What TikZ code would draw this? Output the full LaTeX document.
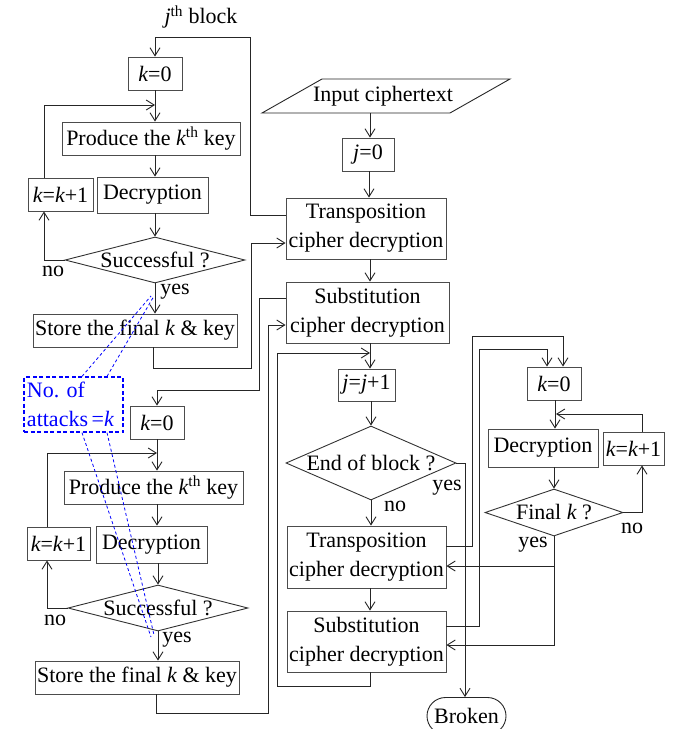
\documentclass[tikz,border=0pt]{standalone}
\usepackage{fontspec}
\setmainfont{Liberation Serif}
\usetikzlibrary{arrows.meta,shapes.geometric,shapes.misc}
\begin{document}
\begin{tikzpicture}[x=1pt,y=-1pt,
  every node/.style={font=\fontsize{22}{29}\selectfont, inner sep=0pt},
  box/.style={draw=black!70, line width=0.9pt, rectangle, align=center},
  dia/.style={draw=black!80, line width=0.9pt, diamond},
  arr/.style={-{Straight Barb[length=8pt,width=10pt]}, line width=0.9pt, draw=black!85},
  ln/.style={line width=0.9pt, draw=black!85},
  bluel/.style={draw=blue, line width=0.8pt, dash pattern=on 3pt off 2.5pt}]
\useasboundingbox (0,0) rectangle (678,729);

% ---------- left, first block ----------
\node (jb) at (201,17) {{\itshape j}\textsuperscript{th} block};
\node[box, minimum width=54pt, minimum height=33pt] (k0a) at (155,73.5) {{\itshape k}=0};
\node[box, minimum width=178pt, minimum height=33pt] (proda) at (151,138.5) {Produce the {\itshape k}\textsuperscript{th} key};
\node[box, minimum width=111pt, minimum height=36pt] (deca) at (152.5,195) {Decryption};
\node[box, minimum width=65pt, minimum height=33pt] (kk1a) at (60.5,194.5) {{\itshape k}={\itshape k}+1};
\node[dia, minimum width=180pt, minimum height=46pt] (succa) at (155,260) {\makebox[0pt]{Successful ?}};
\node[box, minimum width=204pt, minimum height=33pt] (storea) at (135,330.5) {Store the final {\itshape k} \& key};
\node (noa) at (53,271) {no};
\node (yesa) at (175,292) {yes};

% ---------- blue note ----------
\node[draw=blue, line width=1.2pt, dash pattern=on 4pt off 2.5pt, text=blue, align=left,
      text width=93pt, inner xsep=3pt, minimum height=55pt] (att) at (73.5,404.5) {No.\ of\\attacks\,={\itshape k}};

% ---------- left, second block ----------
\node[box, minimum width=54pt, minimum height=33pt] (k0b) at (157,422.5) {{\itshape k}=0};
\node[box, minimum width=179pt, minimum height=33pt] (prodb) at (153.5,487.5) {Produce the {\itshape k}\textsuperscript{th} key};
\node[box, minimum width=111pt, minimum height=37pt] (decb) at (151.5,544.5) {Decryption};
\node[box, minimum width=63pt, minimum height=33pt] (kk1b) at (58.5,543.5) {{\itshape k}={\itshape k}+1};
\node[dia, minimum width=180pt, minimum height=46pt] (succb) at (158,608) {\makebox[0pt]{Successful ?}};
\node[box, minimum width=204pt, minimum height=33pt] (storeb) at (137,677.5) {Store the final {\itshape k} \& key};
\node (nob) at (55,620) {no};
\node (yesb) at (177,640) {yes};

% ---------- middle column ----------
\draw[ln] (262,113) -- (322,79) -- (510,79) -- (450,113) -- cycle;
\node[minimum height=34pt] (input) at (383,96) {Input ciphertext};
\node[box, minimum width=52pt, minimum height=33pt] (j0) at (368,154.5) {{\itshape j}=0};
\node[box, minimum width=160pt, minimum height=61pt] (trans1) at (366,228.5) {Transposition\\cipher decryption};
\node[box, minimum width=163pt, minimum height=61pt] (sub1) at (367.5,312.5) {Substitution\\cipher decryption};
\node[box, minimum width=57pt, minimum height=32pt] (jj1) at (366.5,385) {{\itshape j}={\itshape j}+1};
\node[dia, minimum width=170pt, minimum height=74pt] (endb) at (371,463) {\makebox[0pt]{End of block ?}};
\node (yese) at (447,488) {yes};
\node (noe) at (395,506) {no};
\node[box, minimum width=159pt, minimum height=62pt] (trans2) at (366.5,557) {Transposition\\cipher decryption};
\node[box, minimum width=159pt, minimum height=61pt] (sub2) at (366.5,641.5) {Substitution\\cipher decryption};
\node[draw=black!85, line width=0.9pt, rounded rectangle, minimum width=79pt, minimum height=37pt] (brk) at (466.5,716) {Broken};

% ---------- right column ----------
\node[box, minimum width=54pt, minimum height=33pt] (k0c) at (554,383.5) {{\itshape k}=0};
\node[box, minimum width=110pt, minimum height=38pt] (decc) at (543,448) {Decryption};
\node[box, minimum width=61pt, minimum height=33pt] (kk1c) at (633.5,448.5) {{\itshape k}={\itshape k}+1};
\node[dia, minimum width=138pt, minimum height=47pt] (finalk) at (554,512.5) {\makebox[0pt]{Final {\itshape k} ?}};
\node (nof) at (632,528) {no};
\node (yesf) at (533,545) {yes};

% ---------- connectors: left first block ----------
\draw[arr] (trans1.west |- 0,215) -| (250,37) -| (k0a.north);
\draw[arr] (k0a.south) -- (k0a.south |- proda.north);
\draw[arr] (kk1a.north -| 44,0) |- (155,105);
\draw[arr] (proda.south -| 155,0) -- (deca.north -| 155,0);
\draw[arr] (deca.south -| 155,0) -- (succa.north);
\draw[arr] (succa.west) -| (kk1a.south -| 44,0);
\draw[arr] (succa.south) -- (storea.north -| succa.south);
\draw[arr] (storea.south -| 153,0) |- (251,368) |- (trans1.west |- 0,243);

% ---------- connectors: left second block ----------
\draw[arr] (sub1.west |- 0,298) -| (259,390) -| (k0b.north);
\draw[arr] (k0b.south) -- (k0b.south |- prodb.north);
\draw[arr] (kk1b.north -| 47,0) |- (157,453);
\draw[arr] (prodb.south -| 157,0) -- (decb.north -| 157,0);
\draw[arr] (decb.south -| 158,0) -- (succb.north);
\draw[arr] (succb.west) -| (kk1b.south -| 47,0);
\draw[arr] (succb.south) -- (storeb.north -| succb.south);
\draw[arr] (storeb.south -| 156,0) |- (268,713) |- (sub1.west |- 0,325);

% ---------- connectors: middle ----------
\draw[arr] (input.south -| 370,0) -- (j0.north -| 370,0);
\draw[arr] (j0.south -| 369,0) -- (trans1.north -| 369,0);
\draw[arr] (trans1.south -| 370,0) -- (sub1.north -| 370,0);
\draw[arr] (sub1.south -| 370,0) -- (jj1.north -| 370,0);
\draw[arr] (sub2.south -| 370,0) |- (277,686) |- (370,353);
\draw[arr] (jj1.south -| 371,0) -- (endb.north);
\draw[arr] (endb.south) -- (trans2.north -| endb.south);
\draw[arr] (trans2.south -| 370,0) -- (sub2.north -| 370,0);
\draw[arr] (endb.east) -| (brk.north -| 465,0);

% ---------- connectors: right ----------
\draw[arr] (trans2.east |- 0,546) -| (472,336) -| (k0c.north -| 563,0);
\draw[arr] (sub2.east |- 0,626) -| (479,349) -| (k0c.north -| 547,0);
\draw[arr] (k0c.south -| 555,0) -- (decc.north -| 555,0);
\draw[arr] (kk1c.north -| 642,0) |- (556,414);
\draw[arr] (decc.south -| 554,0) -- (finalk.north);
\draw[arr] (finalk.east) -| (kk1c.south -| 642,0);
\draw[arr] (finalk.south) |- (sub2.east |- 0,645);
\draw[arr] (finalk.south |- 0,566) -- (trans2.east |- 0,566);

% ---------- blue dashed pointers ----------
\draw[bluel] (att.north -| 82,0) -- (151,296);
\draw[bluel] (att.north -| 107,0) -- (154,296);
\draw[bluel] (att.south -| 82,0) -- (151,637);
\draw[bluel] (att.south -| 107,0) -- (154,635);
\end{tikzpicture}
\end{document}
